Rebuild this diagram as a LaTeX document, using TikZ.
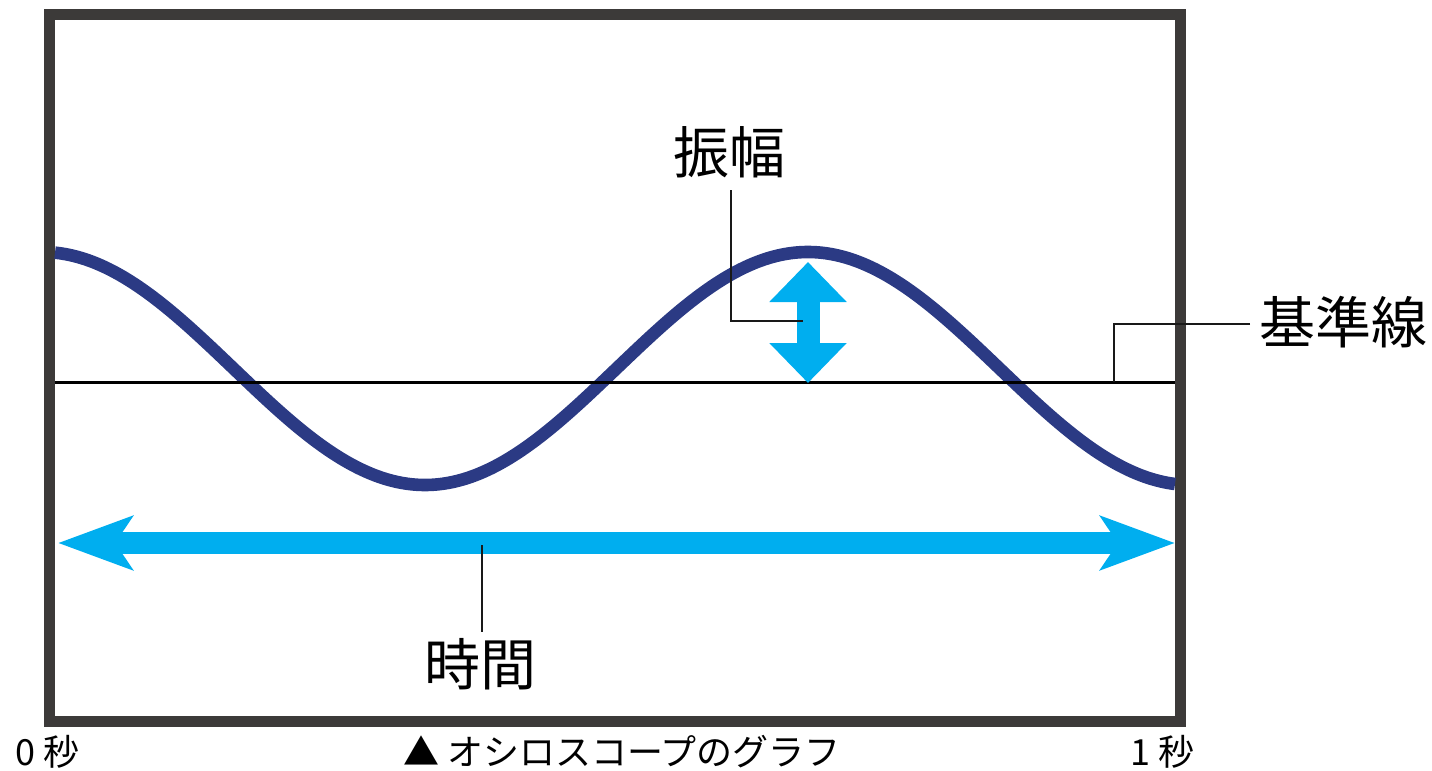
\documentclass[tikz,border=0pt]{standalone}
\usepackage{fontspec}
\setmainfont{Noto Sans CJK JP}
\usetikzlibrary{arrows.meta}
\definecolor{framegray}{HTML}{3C3A39}
\definecolor{wavenavy}{HTML}{2B3A84}
\definecolor{sky}{HTML}{00AEEF}
\begin{document}
\begin{tikzpicture}[x=0.5pt,y=-0.5pt,
  biglbl/.style={font=\fontsize{28}{30}\selectfont, inner sep=0pt},
  smalllbl/.style={font=\fontsize{18}{20}\selectfont, inner sep=0pt},
  leader/.style={line width=1.2pt, black!90},
  wave/.style={wavenavy, line width=6.3pt},
  frameline/.style={framegray, line width=5.5pt},
  ampArrow/.style={sky, line width=11.5pt, {Triangle[length=20pt,width=37.5pt]}-{Triangle[length=20pt,width=37.5pt]}},
  timeArrow/.style={sky, line width=11pt, {Stealth[length=37pt,width=26.5pt,inset=8.5pt]}-{Stealth[length=37pt,width=26.5pt,inset=8.5pt]}}
]
\useasboundingbox (0,0) rectangle (1432,771);
% frame
\draw[frameline] (49.5,14.5) rectangle (1180.5,721.5);
% wave
\draw[wave, domain=55:1175, samples=240, smooth] plot (\x, {368.5-116.5*cos(((\x-808)/766)*360)});
% baseline
\coordinate (baseL) at (55,382);
\coordinate (baseR) at (1175,382);
\draw[line width=1.5pt] (baseL) -- (baseR);
% amplitude arrow
\coordinate (ampTop) at (808,262);
\coordinate (ampBot) at (808,383);
\draw[ampArrow] (ampTop) -- (ampBot);
% time arrow
\coordinate (timeL) at (58,543);
\coordinate (timeR) at (1175,543);
\draw[timeArrow] (timeL) -- (timeR);
% labels
\node[biglbl] (amp) at (729,152) {振幅};
\node[biglbl] (ref) at (1343,322) {基準線};
\node[biglbl] (time) at (480,664) {時間};
% leaders
\coordinate (ampLeadTop) at (731,190);
\coordinate (ampLeadEnd) at (803,321);
\draw[leader] (ampLeadTop) |- (ampLeadEnd);
\coordinate (refLeadStart) at (1250,324);
\coordinate (refLeadEnd) at (1114,382);
\draw[leader] (refLeadStart) -| (refLeadEnd);
\coordinate (timeLeadTop) at (482,545);
\coordinate (timeLeadBot) at (482,632);
\draw[leader] (timeLeadTop) -- (timeLeadBot);
% bottom labels
\node[smalllbl, anchor=west] (zero) at (15,752) {0 秒};
\node[smalllbl] (caption) at (622,752) {▲ オシロスコープのグラフ};
\node[smalllbl, anchor=east] (one) at (1195,752) {1 秒};
\end{tikzpicture}
\end{document}
